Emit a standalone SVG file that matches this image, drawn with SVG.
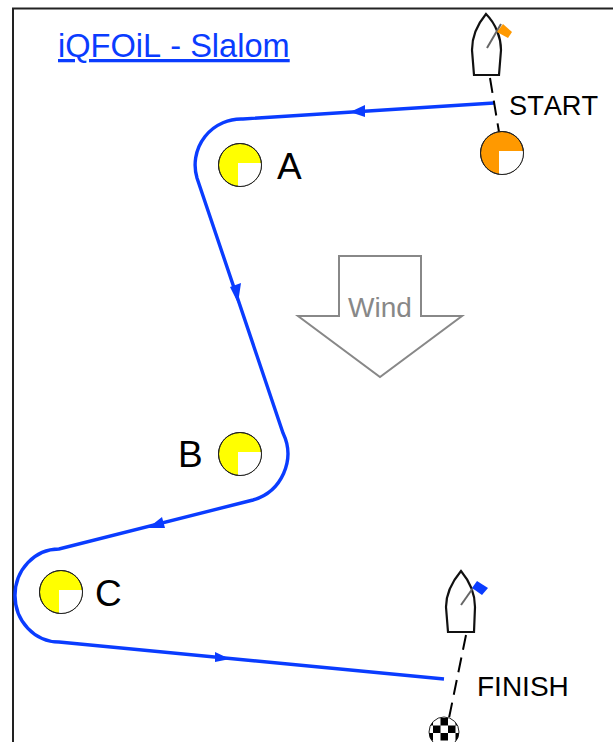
<svg xmlns="http://www.w3.org/2000/svg" width="613" height="742" viewBox="0 0 613 742">
<defs>
<style>
.t{font-family:"Liberation Sans",Arial,sans-serif;fill:#000;font-kerning:none}
.route{fill:none;stroke:#0a3cff;stroke-width:3.400}
.dash{fill:none;stroke:#000;stroke-width:2;stroke-dasharray:15 8}
.hull{fill:#fff;stroke:#111;stroke-width:2.200}
.mast{stroke:#666;stroke-width:2;fill:none}
.mk{stroke:#222;stroke-width:1}
</style>
<g id="buoy"><circle r="21.500" fill="#ff0" class="mk"/><path d="M-2 -2H21.300A21.500 21.500 0 0 1 -2 21.400Z" fill="#fff"/><circle r="21.500" fill="none" class="mk"/></g>
<clipPath id="fc"><circle cx="444" cy="732" r="15"/></clipPath>
</defs>
<rect width="613" height="742" fill="#fff"/>
<path d="M13 742V8.500H613" fill="none" stroke="#222" stroke-width="2"/>
<text class="t" x="58" y="57" font-size="32.600" style="fill:#0a3cff" text-decoration="underline">iQFOiL - Slalom</text>
<g id="connectors">
<path class="route" d="M494 103 243 119A46 46 0 0 0 197 178L283 433A48 48 0 0 1 253 500L59 549A44 46.500 0 0 0 59 642L444 679"/>
<path class="dash" d="M490 78 499 132"/>
<path class="dash" d="M466 635 449 718"/>
<path d="M350 112 365 105 365 117Z M230 287 241 283 238 303Z M148 528 162 517 165 528Z M230 659 215 652 215 662Z" fill="#0a3cff"/>
</g>
<g id="wind"><path d="M339 256H421V316H462L380 377 298 316H339Z" fill="#fff" stroke="#888" stroke-width="2"/><text x="380" y="317" text-anchor="middle" font-size="28" style="fill:#888;font-family:'Liberation Sans',Arial,sans-serif;font-kerning:none">Wind</text></g>
<g id="boat-start"><path class="hull" d="M486 14C476 26 472 38 472 50L474 75H499L501 50C501 38 496 24 486 14Z"/><path class="mast" d="M487 48 501 24"/><path d="M503 24 512 32 508 38 497 32Z" fill="#ff9900"/></g>
<g id="start-mark"><circle cx="502" cy="153" r="21.500" fill="#ff9900" class="mk"/><path d="M499 151H523.500A21.500 21.500 0 0 1 499 174.300Z" fill="#fff"/><circle cx="502" cy="153" r="21.500" fill="none" class="mk"/><text class="t" x="509" y="115" font-size="27.200">START</text></g>
<g id="mark-a"><use href="#buoy" x="240" y="165"/><text class="t" x="277" y="179" font-size="37">A</text></g>
<g id="mark-b"><use href="#buoy" x="240" y="454"/><text class="t" x="178" y="467" font-size="37">B</text></g>
<g id="mark-c"><use href="#buoy" x="61" y="592"/><text class="t" x="95" y="606" font-size="37">C</text></g>
<g id="boat-finish"><path class="hull" d="M461 571C451 583 446 595 446 607L448 632H474L475 607C475 595 471 583 461 571Z"/><path class="mast" d="M461 605 473 588"/><path d="M477 581 488 588 482 595 472 588Z" fill="#0a3cff"/></g>
<g id="finish-mark"><circle cx="444" cy="732" r="15" fill="#fff" stroke="#222"/><path clip-path="url(#fc)" d="M440.500 718H448V725.500H440.500ZM425.500 718H433V725.500H425.500ZM455.500 718H463V725.500H455.500ZM433 725.500H440.500V733H433ZM448 725.500H455.500V733H448ZM440.500 733H448V740.500H440.500ZM425.500 733H433V740.500H425.500ZM455.500 733H463V740.500H455.500Z" fill="#000"/><text class="t" x="477" y="696" font-size="28">FINISH</text></g>
</svg>
